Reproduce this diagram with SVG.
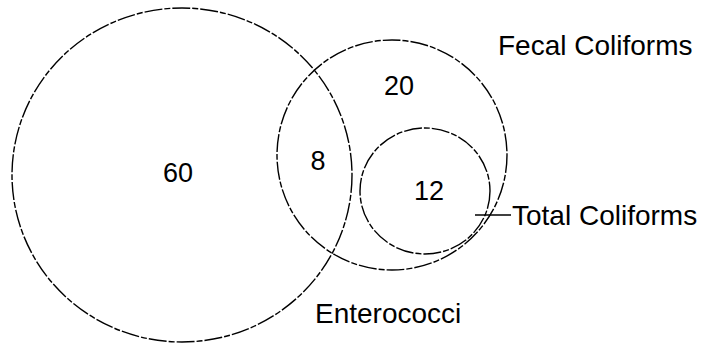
<svg xmlns="http://www.w3.org/2000/svg" width="709" height="344" viewBox="0 0 709 344">
<style>
.c{fill:none;stroke:#000;stroke-width:1.4;stroke-dasharray:18 2 6 2}
.t{font-family:"Liberation Sans",Arial,sans-serif;font-size:28px;fill:#000}
.n{font-family:"Liberation Sans",Arial,sans-serif;font-size:27px;fill:#000;text-anchor:middle}
</style>
<rect width="709" height="344" fill="#fff"/>
<g id="enterococci">
<ellipse class="c" cx="182" cy="175" rx="170" ry="167"/>
<text class="n" x="178" y="182">60</text>
<text class="t" x="315" y="323">Enterococci</text>
</g>
<g id="fecal-coliforms">
<circle class="c" cx="392" cy="155" r="115"/>
<text class="n" x="399" y="95">20</text>
<text class="t" x="498" y="55">Fecal Coliforms</text>
</g>
<g id="overlap">
<text class="n" x="318" y="170">8</text>
</g>
<g id="total-coliforms">
<ellipse class="c" cx="425" cy="191" rx="65" ry="63"/>
<text class="n" x="429" y="200">12</text>
<text class="t" x="512" y="225">Total Coliforms</text>
</g>
<g id="connectors">
<line x1="475" y1="215" x2="511" y2="215" stroke="#000" stroke-width="1.4"/>
</g>
</svg>
